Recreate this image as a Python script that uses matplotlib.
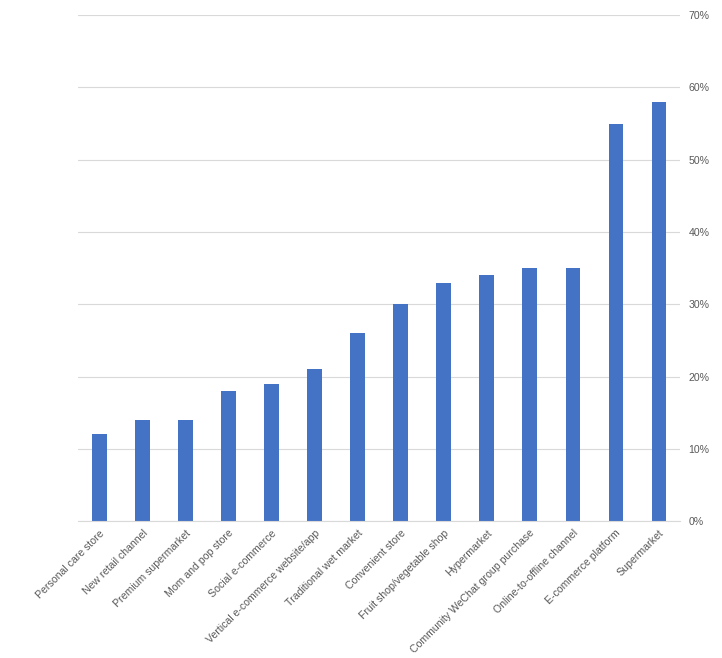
import matplotlib.pyplot as plt
from matplotlib.ticker import PercentFormatter

plt.rcParams['font.family'] = ['Liberation Sans', 'DejaVu Sans']

# 渠道与占比
channels = [
    'Personal care store', 'New retail channel', 'Premium supermarket',
    'Mom and pop store', 'Social e-commerce', 'Vertical e-commerce website/app',
    'Traditional wet market', 'Convenient store', 'Fruit shop/vegetable shop',
    'Hypermarket', 'Community WeChat group purchase', 'Online-to-offline channel',
    'E-commerce platform', 'Supermarket',
]
shares = [12, 14, 14, 18, 19, 21, 26, 30, 33, 34, 35, 35, 55, 58]
y_ticks = [0, 10, 20, 30, 40, 50, 60, 70]

fig = plt.figure(figsize=(7.22, 6.58), dpi=100)
ax = fig.add_axes([0.108, 0.208, 0.834, 0.769])

x = range(len(channels))
ax.bar(x, shares, width=0.33, color='#4472C4', zorder=2)

ax.set_xlim(-0.5, len(channels) - 0.5)
ax.set_ylim(0, 70)
ax.set_yticks(y_ticks)
ax.yaxis.set_major_formatter(PercentFormatter(decimals=0))
ax.yaxis.tick_right()
ax.grid(axis='y', color='#d9d9d9', linewidth=0.8, zorder=0)

ax.set_xticks(list(x))
ax.set_xticklabels(channels, rotation=45, ha='right', rotation_mode='anchor',
                   fontsize=7.6, color='#595959')
ax.tick_params(axis='x', length=0, pad=5)
ax.tick_params(axis='y', length=0, pad=6, labelsize=7.6, labelcolor='#595959')

for side in ['top', 'left', 'right']:
    ax.spines[side].set_visible(False)
ax.spines['bottom'].set_color('#d9d9d9')

fig.savefig('out.png', dpi=100, facecolor='white')
